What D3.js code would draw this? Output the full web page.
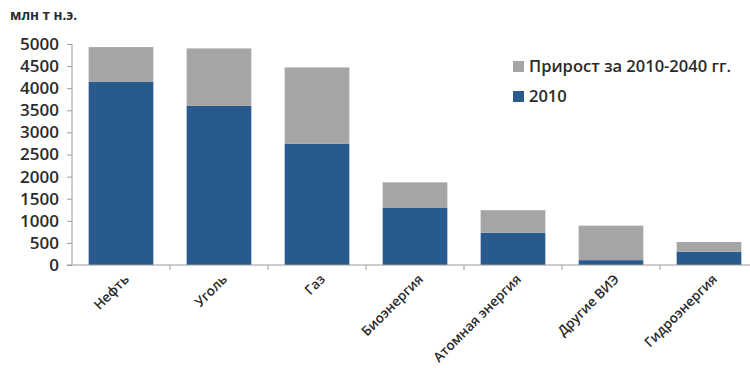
<!DOCTYPE html>
<html>
<meta charset="utf-8">
<head>
	<title>energy bars</title>
	<script src="https://cdn.jsdelivr.net/npm/d3@7/dist/d3.min.js" charset="utf-8"></script>
	<style>
		body { margin: 0; background: #fff; }
		text { font-family: "Open Sans", "Liberation Sans", sans-serif; fill: #2a2a2a; }
	</style>
</head>
<body>
	<script type="text/javascript">
		var categories = ['Нефть', 'Уголь', 'Газ', 'Биоэнергия', 'Атомная энергия', 'Другие ВИЭ', 'Гидроэнергия'];
		var base2010 = [4150, 3600, 2740, 1290, 730, 110, 300];
		var growth = [780, 1300, 1730, 580, 510, 780, 220];
		var yTicks = [0, 500, 1000, 1500, 2000, 2500, 3000, 3500, 4000, 4500, 5000];
		var legendLabels = ['Прирост за 2010-2040 гг.', '2010'];

		var width = 750, height = 368;
		var margin = {top: 44, left: 72, bottom: 103};
		var svg = d3.select('body').append('svg')
			.attr('width', width)
			.attr('height', height);

		var x = d3.scaleBand()
			.domain(categories)
			.range([margin.left, margin.left + 98 * categories.length])
			.paddingInner(0.34).paddingOuter(0.17);
		var y = d3.scaleLinear()
			.domain([0, 5000])
			.range([height - margin.bottom, margin.top]);

		var blue = '#295a8e', grey = '#a5a5a5';

		// stacked bars
		var g = svg.append('g');
		g.selectAll('rect.base').data(categories).enter().append('rect')
			.attr('x', function(d) { return x(d); })
			.attr('width', x.bandwidth())
			.attr('y', function(d, i) { return y(base2010[i]); })
			.attr('height', function(d, i) { return y(0) - y(base2010[i]); })
			.attr('fill', blue);
		g.selectAll('rect.grow').data(categories).enter().append('rect')
			.attr('x', function(d) { return x(d); })
			.attr('width', x.bandwidth())
			.attr('y', function(d, i) { return y(base2010[i] + growth[i]); })
			.attr('height', function(d, i) { return y(base2010[i]) - y(base2010[i] + growth[i]); })
			.attr('fill', grey);

		// y axis
		var yAxis = svg.append('g')
			.attr('transform', 'translate(' + margin.left + ',0)')
			.call(d3.axisLeft(y).tickValues(yTicks).tickFormat(d3.format('d')).tickSize(5).tickPadding(8));
		yAxis.selectAll('text').style('font-size', '17px').style('font-weight', 600);
		yAxis.selectAll('line, path').attr('stroke', '#9a9a9a');
		yAxis.select('.domain').attr('d', 'M0,' + y(5000) + 'V' + y(0));

		// x axis: ticks between bars
		var x0 = y(0);
		svg.append('line')
			.attr('x1', margin.left - 5).attr('x2', width)
			.attr('y1', x0).attr('y2', x0)
			.attr('stroke', '#9a9a9a');
		svg.selectAll('line.xt').data(categories).enter().append('line')
			.attr('x1', function(d) { return x(d) - x.step() * x.paddingInner() / 2 + x.step(); })
			.attr('x2', function(d) { return x(d) - x.step() * x.paddingInner() / 2 + x.step(); })
			.attr('y1', x0).attr('y2', x0 + 5)
			.attr('stroke', '#9a9a9a');

		svg.selectAll('text.xl').data(categories).enter().append('text')
			.attr('transform', function(d) {
				return 'translate(' + (x(d) + x.bandwidth() / 2 + 9) + ',' + (x0 + 15) + ') rotate(-45)';
			})
			.attr('text-anchor', 'end')
			.style('font-size', '13.5px')
			.style('font-weight', 600)
			.text(function(d) { return d; });

		// unit label
		svg.append('text')
			.attr('x', 10).attr('y', 20)
			.style('font-size', '13.5px')
			.style('font-weight', 700)
			.text('млн т н.э.');

		// legend
		var leg = svg.append('g').attr('transform', 'translate(513,60)');
		[grey, blue].forEach(function(c, i) {
			leg.append('rect').attr('x', 0).attr('y', i * 30 + 1).attr('width', 11).attr('height', 11).attr('fill', c);
			leg.append('text').attr('x', 16).attr('y', i * 30 + 12)
				.style('font-size', '16.5px').style('font-weight', 600)
				.text(legendLabels[i]);
		});
	</script>
</body>
</html>
